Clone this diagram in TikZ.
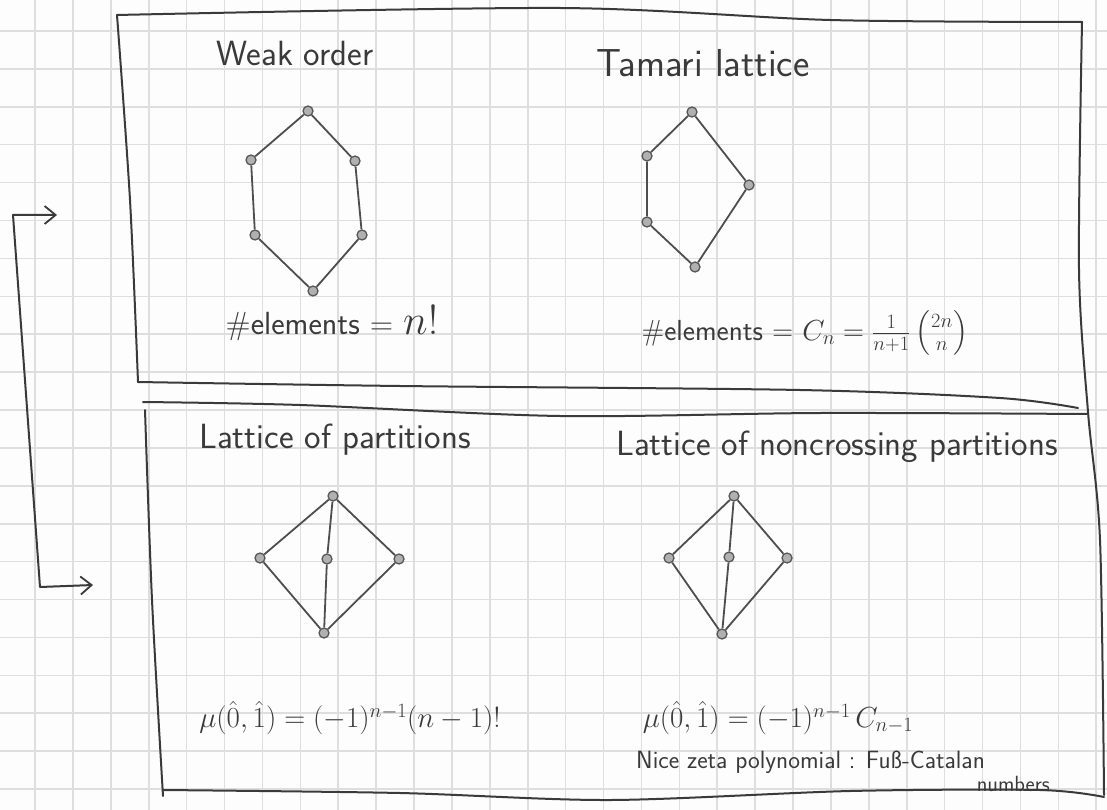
\RequirePackage{fix-cm}
\documentclass[tikz,border=0pt]{standalone}
\usepackage{amsmath}
\usetikzlibrary{arrows.meta}
\definecolor{pencil}{RGB}{58,58,58}
\definecolor{gridgray}{RGB}{222,222,222}
\definecolor{paper}{RGB}{253,253,253}
\tikzset{
  gridline/.style={draw=gridgray, line width=1.6pt},
  stroke/.style={draw=pencil, line width=2pt, line cap=round, line join=round},
  edge/.style={draw=pencil!90, line width=1.8pt},
  vtx/.style={circle, draw=pencil!85, fill=pencil!40, line width=1.3pt,
              minimum size=10pt, inner sep=0pt},
  title/.style={text=pencil, inner sep=0pt, font=\sffamily\fontsize{35}{40}\selectfont},
  formula/.style={text=pencil, inner sep=0pt, font=\sffamily\fontsize{29}{34}\selectfont},
  note/.style={text=pencil, inner sep=0pt, font=\sffamily\fontsize{25}{28}\selectfont},
  barb/.tip={Straight Barb[length=11pt,width=18pt,line width=1.8pt]},
}
\begin{document}
\begin{tikzpicture}[x=1pt, y=-1pt]
  % paper and squared grid
  \fill[paper] (0,0) rectangle (1107,810);
  \useasboundingbox (0,0) rectangle (1107,810);
  \foreach \k in {0,...,28} \draw[gridline] ({35+37.9*\k},0) -- ({35+37.9*\k},810);
  \foreach \k in {0,...,20} \draw[gridline] (0,{31+37.9*\k}) -- (1107,{31+37.9*\k});

  % upper frame
  \draw[stroke] plot[smooth, tension=0.5] coordinates {(138,382) (130,200) (117,15)};
  \draw[stroke] plot[smooth, tension=0.5] coordinates {(117,15) (560,8) (830,20) (1082,22)};
  \draw[stroke] plot[smooth, tension=0.5] coordinates {(1082,22) (1079,270) (1088,412) (1100,540) (1104,795)};
  \draw[stroke] plot[smooth, tension=0.5] coordinates {(138,382) (400,386) (800,390) (1000,398) (1078,408)};

  % lower frame
  \draw[stroke] plot[smooth, tension=0.5] coordinates {(143,402) (300,405) (560,416) (820,413) (1088,414)};
  \draw[stroke] plot[smooth, tension=0.5] coordinates {(145,410) (152,600) (163,796)};
  \draw[stroke] plot[smooth, tension=0.5] coordinates {(163,790) (400,793) (610,800) (850,791) (1040,790) (1104,797)};

  % bracket arrow joining the two frames
  \coordinate (a1) at (57,215);
  \coordinate (c1) at (13,215);
  \coordinate (c2) at (40,587);
  \coordinate (a2) at (93,585);
  \draw[stroke, barb-barb] (a1) -- (c1) -- (c2) -- (a2);

  % ---- weak order ----
  \node[title] (wt) at (295,53) {Weak order};
  \node[vtx] (w0) at (313,291) {};
  \node[vtx] (w1) at (255,235) {};
  \node[vtx] (w2) at (362,235) {};
  \node[vtx] (w3) at (251,160) {};
  \node[vtx] (w4) at (355,161) {};
  \node[vtx] (w5) at (308,111) {};
  \draw[edge] (w5) -- (w3) -- (w1) -- (w0) -- (w2) -- (w4) -- (w5);
  \node[formula, font=\sffamily\fontsize{32}{36}\selectfont] (we) at (332,323)
    {\#elements = {\fontsize{42}{44}\selectfont$n!$}};

  % ---- Tamari lattice ----
  \node[title, font=\sffamily\fontsize{39}{44}\selectfont] (tt) at (703,63) {Tamari lattice};
  \node[vtx] (t0) at (695,267) {};
  \node[vtx] (t1) at (647,222) {};
  \node[vtx] (t2) at (647,156) {};
  \node[vtx] (t3) at (749,185) {};
  \node[vtx] (t4) at (692,112) {};
  \draw[edge] (t4) -- (t2) -- (t1) -- (t0) -- (t3) -- (t4);
  \node[formula] (te) at (805,333)
    {\#elements = $C_n = \frac{1}{n+1}\left(\genfrac{}{}{0pt}{1}{2n}{n}\right)$};

  % ---- lattice of partitions ----
  \node[title] (pt) at (335,440) {Lattice of partitions};
  \node[vtx] (p0) at (324,633) {};
  \node[vtx] (p1) at (260,558) {};
  \node[vtx] (p2) at (327,559) {};
  \node[vtx] (p3) at (399,559) {};
  \node[vtx] (p4) at (333,496) {};
  \draw[edge] (p4) -- (p1) -- (p0);
  \draw[edge] (p4) -- (p2) -- (p0);
  \draw[edge] (p4) -- (p3) -- (p0);
  \node[formula] (pm) at (350,718) {$\mu(\hat 0,\hat 1) = (-1)^{n-1}(n-1)!$};

  % ---- lattice of noncrossing partitions ----
  \node[title] (nt) at (837,447) {Lattice of noncrossing partitions};
  \node[vtx] (n0) at (722,634) {};
  \node[vtx] (n1) at (669,558) {};
  \node[vtx] (n2) at (729,557) {};
  \node[vtx] (n3) at (787,558) {};
  \node[vtx] (n4) at (734,496) {};
  \draw[edge] (n4) -- (n1) -- (n0);
  \draw[edge] (n4) -- (n2) -- (n0);
  \draw[edge] (n4) -- (n3) -- (n0);
  \node[formula] (nm) at (778,718) {$\mu(\hat 0,\hat 1) = (-1)^{n-1}\,C_{n-1}$};
  \node[note, anchor=west] (nz) at (636,762) {Nice zeta polynomial : Fuß-Catalan};
  \node[note, anchor=east, font=\sffamily\fontsize{22}{26}\selectfont] (nn) at (1050,784) {numbers};
\end{tikzpicture}
\end{document}
